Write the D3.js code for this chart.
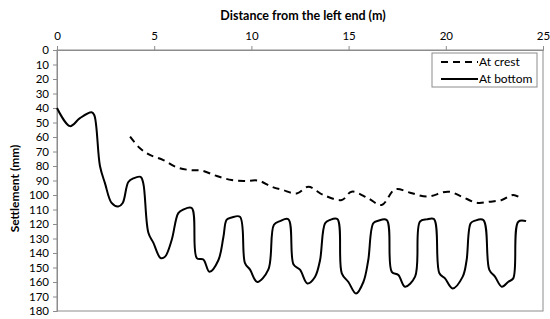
<!DOCTYPE html>
<html>
<head>
<meta charset="utf-8">
<script src="https://cdn.jsdelivr.net/npm/d3@7"></script>
<style>
  body { margin: 0; background: #fff; }
  text { font-family: Lato, "Open Sans", "Liberation Sans", sans-serif; fill: #000; }
</style>
</head>
<body>
<div id="chart"></div>
<script>
// distance (m) and settlement (mm)
const bottomX = [0, 0.67, 1.18, 1.78, 1.92, 2.21, 2.47, 2.81, 3.15, 3.38, 3.67, 3.93, 4.3, 4.44, 4.7, 4.96, 5.33, 5.56, 5.9, 6.24, 6.5, 6.93, 7.19, 7.53, 7.84, 8.3, 8.56, 8.73, 8.99, 9.41, 9.67, 9.93, 10.3, 10.87, 11.16, 11.47, 11.9, 12.17, 12.5, 12.88, 13.27, 13.53, 13.79, 14.04, 14.42, 14.65, 14.99, 15.38, 15.76, 16.01, 16.27, 16.53, 16.96, 17.22, 17.56, 17.9, 18.42, 18.67, 19.02, 19.39, 19.67, 19.96, 20.35, 20.87, 21.07, 21.28, 21.5, 21.93, 22.24, 22.53, 22.88, 23.22, 23.47, 23.73, 24.13];
const bottomY = [40, 52.5, 47, 43, 45, 80, 92, 105.5, 108, 105.5, 91, 88.5, 87.5, 92, 126, 133, 143.5, 142.5, 131, 112.5, 110, 109, 143.5, 144.5, 153, 145, 129, 117, 115.5, 115, 147, 151.5, 160, 151.5, 120.5, 118, 116.7, 148, 151.5, 161, 156.5, 145, 119.5, 117.2, 116.6, 154, 160, 168, 160, 145, 119.5, 117.7, 117.2, 153, 155.2, 163.2, 156.3, 118.4, 116.8, 116.6, 154, 157.5, 164.4, 156.3, 145, 119.5, 117.7, 117.2, 151.7, 156.3, 163.2, 159.8, 157.5, 118.4, 118];

const crestX = [3.76, 4.27, 4.78, 5.47, 6.16, 6.84, 7.44, 8.22, 8.99, 9.67, 10.36, 11.04, 11.6, 12.33, 12.93, 13.7, 14.65, 15.16, 16.01, 16.7, 17.39, 18.16, 19.02, 20.13, 20.82, 21.59, 22.27, 22.88, 23.47, 23.82];
const crestY = [59.8, 67.8, 72.4, 75.9, 80.9, 82.8, 83.2, 86.9, 89.7, 90.3, 90.1, 94.3, 96.5, 98.9, 94.3, 100, 103.4, 97.7, 102.3, 106.9, 96.1, 98.4, 101.1, 97.7, 101.1, 105.3, 104.6, 103.4, 100, 101.8];

const xTicks = [0, 5, 10, 15, 20, 25];
const yTicks = [0, 10, 20, 30, 40, 50, 60, 70, 80, 90, 100, 110, 120, 130, 140, 150, 160, 170, 180];

const seriesNames = ["At crest", "At bottom"];

const W = 550, H = 319;
const margin = { top: 50, right: 7, bottom: 8, left: 57 };
const width = W - margin.left - margin.right;
const height = H - margin.top - margin.bottom;

const svg = d3.select("#chart").append("svg")
    .attr("width", W)
    .attr("height", H);

const xScale = d3.scaleLinear().domain([0, 25]).range([0, width]);
const yScale = d3.scaleLinear().domain([0, 180]).range([0, height]);

const chart = svg.append("g")
    .attr("transform", `translate(${margin.left}, ${margin.top})`);

// plot area frame
chart.append("rect")
    .attr("x", 0)
    .attr("y", 0)
    .attr("width", width)
    .attr("height", height)
    .attr("fill", "none")
    .attr("stroke", "#8c8c8c")
    .attr("stroke-width", 1);

// top axis
const xAxis = chart.append("g")
    .call(d3.axisTop(xScale).tickValues(xTicks).tickSize(4).tickPadding(6));
xAxis.selectAll("text").style("font-size", "11.5px");

// left axis (reversed)
const yAxis = chart.append("g")
    .call(d3.axisLeft(yScale).tickValues(yTicks).tickSize(4).tickPadding(4));
yAxis.selectAll("text").style("font-size", "11.5px");

svg.selectAll(".domain, .tick line")
    .attr("stroke", "#8c8c8c");

// axis titles
svg.append("text")
    .attr("x", margin.left + width / 2 + 3)
    .attr("y", 20)
    .style("text-anchor", "middle")
    .style("font-size", "12.5px")
    .style("font-weight", "bold")
    .text("Distance from the left end (m)");

svg.append("text")
    .attr("transform", `translate(19, ${margin.top + height / 2 + 8}) rotate(-90)`)
    .style("text-anchor", "middle")
    .style("font-size", "12px")
    .style("font-weight", "bold")
    .text("Settlement (mm)");

// lines
const line = d3.line()
    .x(d => xScale(d[0]))
    .y(d => yScale(d[1]))
    .curve(d3.curveCatmullRom.alpha(0.5));

chart.append("path")
    .datum(crestX.map((x, i) => [x, crestY[i]]))
    .attr("d", line)
    .attr("fill", "none")
    .attr("stroke", "#000")
    .attr("stroke-width", 2)
    .attr("stroke-dasharray", "7,5");

chart.append("path")
    .datum(bottomX.map((x, i) => [x, bottomY[i]]))
    .attr("d", line)
    .attr("fill", "none")
    .attr("stroke", "#000")
    .attr("stroke-width", 2);

// legend
const legend = svg.append("g")
    .attr("transform", "translate(432, 53)");

legend.append("rect")
    .attr("width", 105)
    .attr("height", 34)
    .attr("fill", "#fff")
    .attr("stroke", "#8c8c8c");

const items = legend.selectAll(".item")
    .data(seriesNames)
    .join("g")
    .attr("class", "item")
    .attr("transform", (d, i) => `translate(0, ${9 + i * 17})`);

items.append("line")
    .attr("x1", 9)
    .attr("x2", 46)
    .attr("y1", 0)
    .attr("y2", 0)
    .attr("stroke", "#000")
    .attr("stroke-width", 2)
    .attr("stroke-dasharray", (d, i) => i === 0 ? "7,5" : null);

items.append("text")
    .attr("x", 47)
    .attr("y", 4)
    .style("font-size", "12px")
    .text(d => d);
</script>
</body>
</html>
